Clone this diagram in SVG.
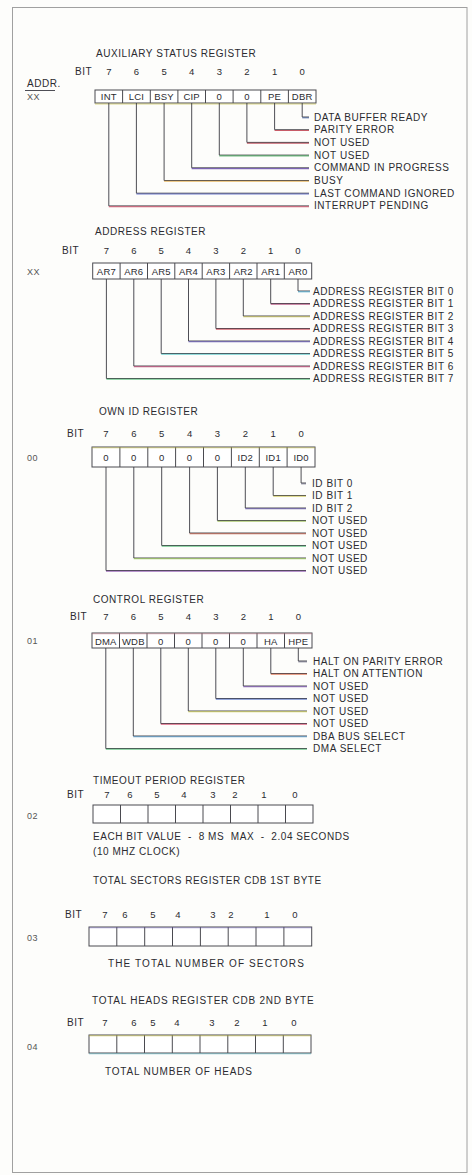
<svg xmlns="http://www.w3.org/2000/svg" width="472" height="1175" viewBox="0 0 472 1175">
<style>
text{font-family:"Liberation Sans",Arial,sans-serif;fill:#2b2b30;font-size:10px;letter-spacing:0.55px}
.t{font-size:10px}
.d{font-size:9.5px;text-anchor:middle;letter-spacing:0}
.c{font-size:9.5px;text-anchor:middle;letter-spacing:0.2px}
.a{font-size:9px;fill:#555;letter-spacing:0.6px}
.box{fill:#fff;stroke:#4a4a50;stroke-width:1}
.div{fill:none;stroke:#4a4a50;stroke-width:1}
.ln{fill:none;stroke:#3a3a42;stroke-width:0.9}
.tint{fill:none;stroke-width:1.1;opacity:0.75}
</style>
<rect x="0" y="0" width="472" height="1175" fill="#fdfdfb"/>
<rect x="12.5" y="7.5" width="454.5" height="1165" fill="none" stroke="#a0a0a0" stroke-width="1"/>

<g id="aux-status-register">
<text x="96" y="57">AUXILIARY STATUS REGISTER</text>
<text x="27" y="87">ADDR.</text>
<line x1="25" y1="90.5" x2="55" y2="90.5" stroke="#3a3a42" stroke-width="0.9"/>
<text class="a" x="27" y="100">XX</text>
<text x="75" y="75" class="t">BIT</text>
<text class="d" x="108.8" y="75">7</text><text class="d" x="136.4" y="75">6</text><text class="d" x="164.1" y="75">5</text><text class="d" x="191.7" y="75">4</text><text class="d" x="219.3" y="75">3</text><text class="d" x="246.9" y="75">2</text><text class="d" x="274.6" y="75">1</text><text class="d" x="302.2" y="75">0</text>
<rect class="box" x="95" y="90" width="221" height="13"/>
<path class="div" d="M122.6 90V103M150.3 90V103M177.9 90V103M205.5 90V103M233.1 90V103M260.8 90V103M288.4 90V103"/>
<line x1="95" y1="104" x2="316" y2="104" stroke="#c8c040" stroke-width="1" opacity="0.6"/>
<text class="c" x="108.8" y="100">INT</text><text class="c" x="136.4" y="100">LCI</text><text class="c" x="164.1" y="100">BSY</text><text class="c" x="191.7" y="100">CIP</text><text class="c" x="219.3" y="100">0</text><text class="c" x="246.9" y="100">0</text><text class="c" x="274.6" y="100">PE</text><text class="c" x="302.2" y="100">DBR</text>
<text x="314" y="120.5">DATA BUFFER READY</text>
<text x="314" y="133.2">PARITY ERROR</text>
<text x="314" y="145.9">NOT USED</text>
<text x="314" y="158.6">NOT USED</text>
<text x="314" y="171.3">COMMAND IN PROGRESS</text>
<text x="314" y="184">BUSY</text>
<text x="314" y="196.7">LAST COMMAND IGNORED</text>
<text x="314" y="209.4">INTERRUPT PENDING</text>
</g>

<g id="address-register">
<text x="95" y="235">ADDRESS REGISTER</text>
<text class="a" x="27" y="275">XX</text>
<text x="62" y="254">BIT</text>
<text class="d" x="106.4" y="254">7</text><text class="d" x="133.8" y="254">6</text><text class="d" x="161.2" y="254">5</text><text class="d" x="188.5" y="254">4</text><text class="d" x="215.9" y="254">3</text><text class="d" x="243.3" y="254">2</text><text class="d" x="270.7" y="254">1</text><text class="d" x="298" y="254">0</text>
<rect class="box" x="92.7" y="263" width="219" height="16"/>
<path class="div" d="M120.1 263V279M147.5 263V279M174.8 263V279M202.2 263V279M229.6 263V279M257 263V279M284.3 263V279"/>
<text class="c" x="106.4" y="275">AR7</text><text class="c" x="133.8" y="275">AR6</text><text class="c" x="161.2" y="275">AR5</text><text class="c" x="188.5" y="275">AR4</text><text class="c" x="215.9" y="275">AR3</text><text class="c" x="243.3" y="275">AR2</text><text class="c" x="270.7" y="275">AR1</text><text class="c" x="298" y="275">AR0</text>
<text x="313" y="294.5">ADDRESS REGISTER BIT 0</text>
<text x="313" y="307">ADDRESS REGISTER BIT 1</text>
<text x="313" y="319.5">ADDRESS REGISTER BIT 2</text>
<text x="313" y="332">ADDRESS REGISTER BIT 3</text>
<text x="313" y="344.5">ADDRESS REGISTER BIT 4</text>
<text x="313" y="357">ADDRESS REGISTER BIT 5</text>
<text x="313" y="369.5">ADDRESS REGISTER BIT 6</text>
<text x="313" y="382">ADDRESS REGISTER BIT 7</text>
</g>

<g id="own-id-register">
<text x="99" y="415">OWN ID REGISTER</text>
<text class="a" x="27" y="461">00</text>
<text x="67" y="437">BIT</text>
<text class="d" x="106" y="437">7</text><text class="d" x="133.8" y="437">6</text><text class="d" x="161.7" y="437">5</text><text class="d" x="189.6" y="437">4</text><text class="d" x="217.4" y="437">3</text><text class="d" x="245.3" y="437">2</text><text class="d" x="273.2" y="437">1</text><text class="d" x="301.1" y="437">0</text>
<rect class="box" x="92" y="447" width="223" height="20"/>
<path class="div" d="M119.9 447V467M147.8 447V467M175.6 447V467M203.5 447V467M231.4 447V467M259.3 447V467M287.1 447V467"/>
<line x1="92" y1="447.8" x2="315" y2="447.8" stroke="#c8c040" stroke-width="1" opacity="0.55"/>
<text class="c" x="106" y="460.5">0</text><text class="c" x="133.8" y="460.5">0</text><text class="c" x="161.7" y="460.5">0</text><text class="c" x="189.6" y="460.5">0</text><text class="c" x="217.4" y="460.5">0</text><text class="c" x="245.3" y="460.5">ID2</text><text class="c" x="273.2" y="460.5">ID1</text><text class="c" x="301.1" y="460.5">ID0</text>
<text x="312" y="486.5">ID BIT 0</text>
<text x="312" y="499">ID BIT 1</text>
<text x="312" y="511.5">ID BIT 2</text>
<text x="312" y="524">NOT USED</text>
<text x="312" y="536.5">NOT USED</text>
<text x="312" y="549">NOT USED</text>
<text x="312" y="561.5">NOT USED</text>
<text x="312" y="574">NOT USED</text>
</g>

<g id="control-register">
<text x="93" y="603">CONTROL REGISTER</text>
<text class="a" x="27" y="644">01</text>
<text x="70" y="620">BIT</text>
<text class="d" x="105.8" y="620">7</text><text class="d" x="133.3" y="620">6</text><text class="d" x="160.8" y="620">5</text><text class="d" x="188.3" y="620">4</text><text class="d" x="215.8" y="620">3</text><text class="d" x="243.3" y="620">2</text><text class="d" x="270.8" y="620">1</text><text class="d" x="298.3" y="620">0</text>
<rect class="box" x="92" y="633" width="220" height="15"/>
<path class="div" d="M119.5 633V648M147 633V648M174.5 633V648M202 633V648M229.5 633V648M257 633V648M284.5 633V648"/>
<line x1="92" y1="633.8" x2="312" y2="633.8" stroke="#d08090" stroke-width="1" opacity="0.5"/>
<text class="c" x="105.8" y="644.5">DMA</text><text class="c" x="133.3" y="644.5">WDB</text><text class="c" x="160.8" y="644.5">0</text><text class="c" x="188.3" y="644.5">0</text><text class="c" x="215.8" y="644.5">0</text><text class="c" x="243.3" y="644.5">0</text><text class="c" x="270.8" y="644.5">HA</text><text class="c" x="298.3" y="644.5">HPE</text>
<text x="313" y="664.5">HALT ON PARITY ERROR</text>
<text x="313" y="677">HALT ON ATTENTION</text>
<text x="313" y="689.5">NOT USED</text>
<text x="313" y="702">NOT USED</text>
<text x="313" y="714.5">NOT USED</text>
<text x="313" y="727">NOT USED</text>
<text x="313" y="739.5">DBA BUS SELECT</text>
<text x="313" y="752">DMA SELECT</text>
</g>

<g id="timeout-period-register">
<text x="93" y="784">TIMEOUT PERIOD REGISTER</text>
<text class="a" x="27" y="819">02</text>
<text x="67" y="798">BIT</text>
<text class="d" x="106.8" y="798">7</text><text class="d" x="130" y="798">6</text><text class="d" x="157" y="798">5</text><text class="d" x="184" y="798">4</text><text class="d" x="213" y="798">3</text><text class="d" x="235" y="798">2</text><text class="d" x="264" y="798">1</text><text class="d" x="295" y="798">0</text>
<rect class="box" x="93" y="805" width="220" height="18"/>
<path class="div" d="M120.5 805V823M148 805V823M175.5 805V823M203 805V823M230.5 805V823M258 805V823M285.5 805V823"/>
<text x="93" y="840" xml:space="preserve">EACH BIT VALUE  -  8 MS  MAX  -  2.04 SECONDS</text>
<text x="93" y="855">(10 MHZ CLOCK)</text>
</g>

<g id="total-sectors-register">
<text x="93" y="884">TOTAL SECTORS REGISTER CDB 1ST BYTE</text>
<text class="a" x="27" y="941">03</text>
<text x="65" y="918">BIT</text>
<text class="d" x="105" y="918">7</text><text class="d" x="125" y="918">6</text><text class="d" x="153" y="918">5</text><text class="d" x="178" y="918">4</text><text class="d" x="213" y="918">3</text><text class="d" x="231" y="918">2</text><text class="d" x="267" y="918">1</text><text class="d" x="295" y="918">0</text>
<rect class="box" x="89" y="927" width="222.7" height="19"/>
<path class="div" d="M116.8 927V946M144.7 927V946M172.5 927V946M200.4 927V946M228.2 927V946M256 927V946M283.9 927V946"/>
<line x1="89" y1="927.8" x2="311.7" y2="927.8" stroke="#7060c0" stroke-width="1" opacity="0.45"/>
<text x="108" y="967" style="letter-spacing:1.1px">THE TOTAL NUMBER OF SECTORS</text>
</g>

<g id="total-heads-register">
<text x="92" y="1004" style="letter-spacing:0.75px">TOTAL HEADS REGISTER CDB 2ND BYTE</text>
<text class="a" x="27" y="1050">04</text>
<text x="67" y="1026">BIT</text>
<text class="d" x="105" y="1026">7</text><text class="d" x="134" y="1026">6</text><text class="d" x="153" y="1026">5</text><text class="d" x="177" y="1026">4</text><text class="d" x="212" y="1026">3</text><text class="d" x="237" y="1026">2</text><text class="d" x="265" y="1026">1</text><text class="d" x="294" y="1026">0</text>
<rect class="box" x="89" y="1035" width="222" height="18"/>
<path class="div" d="M116.8 1035V1053M144.5 1035V1053M172.3 1035V1053M200 1035V1053M227.8 1035V1053M255.5 1035V1053M283.3 1035V1053"/>
<line x1="89" y1="1035.8" x2="311" y2="1035.8" stroke="#c8c040" stroke-width="1" opacity="0.6"/>
<line x1="89" y1="1053.8" x2="311" y2="1053.8" stroke="#40b0c0" stroke-width="1" opacity="0.5"/>
<text x="105" y="1075" style="letter-spacing:0.8px">TOTAL NUMBER OF HEADS</text>
</g>

<g id="connectors">
<g id="aux-connectors">
<path class="ln" d="M302.2 103V117H309"/><line class="tint" stroke="#3a5a9a" x1="302.2" y1="117.8" x2="309" y2="117.8"/>
<path class="ln" d="M274.6 103V129.7H309"/><line class="tint" stroke="#c03040" x1="274.6" y1="130.5" x2="309" y2="130.5"/>
<path class="ln" d="M246.9 103V142.4H309"/><line class="tint" stroke="#b02838" x1="246.9" y1="143.2" x2="309" y2="143.2"/>
<path class="ln" d="M219.3 103V155.1H309"/><line class="tint" stroke="#40a858" x1="219.3" y1="155.9" x2="309" y2="155.9"/>
<path class="ln" d="M191.7 103V167.8H309"/><line class="tint" stroke="#6040a8" x1="191.7" y1="168.6" x2="309" y2="168.6"/>
<path class="ln" d="M164.1 103V180.5H309"/><line class="tint" stroke="#e0a030" x1="164.1" y1="181.3" x2="309" y2="181.3"/>
<path class="ln" d="M136.4 103V193.2H309"/><line class="tint" stroke="#4050c0" x1="136.4" y1="194" x2="309" y2="194"/>
<path class="ln" d="M108.8 103V205.9H309"/><line class="tint" stroke="#d03050" x1="108.8" y1="206.7" x2="309" y2="206.7"/>
</g>
<g id="address-connectors">
<path class="ln" d="M298 279V291H310"/><line class="tint" stroke="#40a8d0" x1="298" y1="291.8" x2="310" y2="291.8"/>
<path class="ln" d="M270.7 279V303.5H310"/><line class="tint" stroke="#a83068" x1="270.7" y1="304.3" x2="310" y2="304.3"/>
<path class="ln" d="M243.3 279V316H310"/><line class="tint" stroke="#c0b840" x1="243.3" y1="316.8" x2="310" y2="316.8"/>
<path class="ln" d="M215.9 279V328.5H310"/><line class="tint" stroke="#c83040" x1="215.9" y1="329.3" x2="310" y2="329.3"/>
<path class="ln" d="M188.5 279V341H310"/><line class="tint" stroke="#5040b0" x1="188.5" y1="341.8" x2="310" y2="341.8"/>
<path class="ln" d="M161.2 279V353.5H310"/><line class="tint" stroke="#40c0c0" x1="161.2" y1="354.3" x2="310" y2="354.3"/>
<path class="ln" d="M133.8 279V366H310"/><line class="tint" stroke="#c03068" x1="133.8" y1="366.8" x2="310" y2="366.8"/>
<path class="ln" d="M106.4 279V378.5H310"/><line class="tint" stroke="#40b868" x1="106.4" y1="379.3" x2="310" y2="379.3"/>
</g>
<g id="own-id-connectors">
<path class="ln" d="M301.1 467V483H306"/><line class="tint" stroke="#606078" x1="301.1" y1="483.8" x2="306" y2="483.8"/>
<path class="ln" d="M273.2 467V495.5H306"/><line class="tint" stroke="#c8c040" x1="273.2" y1="496.3" x2="306" y2="496.3"/>
<path class="ln" d="M245.3 467V508H306"/><line class="tint" stroke="#5040a0" x1="245.3" y1="508.8" x2="306" y2="508.8"/>
<path class="ln" d="M217.4 467V520.5H306"/><line class="tint" stroke="#90b840" x1="217.4" y1="521.3" x2="306" y2="521.3"/>
<path class="ln" d="M189.6 467V533H306"/><line class="tint" stroke="#b84830" x1="189.6" y1="533.8" x2="306" y2="533.8"/>
<path class="ln" d="M161.7 467V545.5H306"/><line class="tint" stroke="#40b868" x1="161.7" y1="546.3" x2="306" y2="546.3"/>
<path class="ln" d="M133.8 467V558H306"/><line class="tint" stroke="#90c840" x1="133.8" y1="558.8" x2="306" y2="558.8"/>
<path class="ln" d="M106 467V570.5H306"/><line class="tint" stroke="#8040a8" x1="106" y1="571.3" x2="306" y2="571.3"/>
</g>
<g id="control-connectors">
<path class="ln" d="M298.3 648V661H307"/><line class="tint" stroke="#606078" x1="298.3" y1="661.8" x2="307" y2="661.8"/>
<path class="ln" d="M270.8 648V673.5H307"/><line class="tint" stroke="#d85830" x1="270.8" y1="674.3" x2="307" y2="674.3"/>
<path class="ln" d="M243.3 648V686H307"/><line class="tint" stroke="#7040b0" x1="243.3" y1="686.8" x2="307" y2="686.8"/>
<path class="ln" d="M215.8 648V698.5H307"/><line class="tint" stroke="#4060c0" x1="215.8" y1="699.3" x2="307" y2="699.3"/>
<path class="ln" d="M188.3 648V711H307"/><line class="tint" stroke="#c8c840" x1="188.3" y1="711.8" x2="307" y2="711.8"/>
<path class="ln" d="M160.8 648V723.5H307"/><line class="tint" stroke="#d03058" x1="160.8" y1="724.3" x2="307" y2="724.3"/>
<path class="ln" d="M133.3 648V736H307"/><line class="tint" stroke="#4090c8" x1="133.3" y1="736.8" x2="307" y2="736.8"/>
<path class="ln" d="M105.8 648V748.5H307"/><line class="tint" stroke="#40b868" x1="105.8" y1="749.3" x2="307" y2="749.3"/>
</g>
</g>
</svg>
